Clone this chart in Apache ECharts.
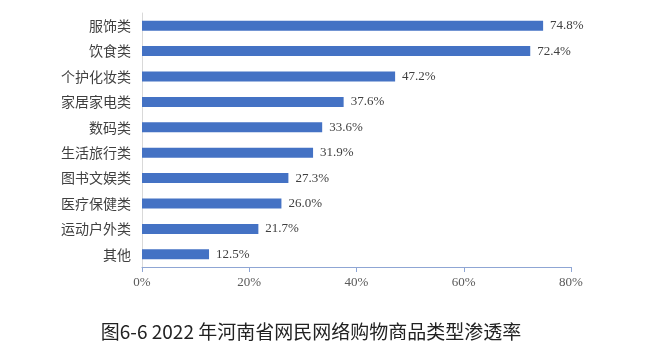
<!DOCTYPE html>
<html><head><meta charset="utf-8">
<script src="https://cdn.jsdelivr.net/npm/echarts@6/dist/echarts.min.js"></script>
<style>html,body{margin:0;padding:0;background:#fff}#c{width:664px;height:360px}</style>
</head><body><div id="c"></div>
<script>
const categories = ['服饰类','饮食类','个护化妆类','家居家电类','数码类','生活旅行类','图书文娱类','医疗保健类','运动户外类','其他'];
const values = [74.8,72.4,47.2,37.6,33.6,31.9,27.3,26.0,21.7,12.5];
const xTicks = [0,20,40,60,80];
const titleText = '图6-6 2022 年河南省网民网络购物商品类型渗透率';

const chart = echarts.init(document.getElementById('c'));
chart.setOption({
  animation:false,
  backgroundColor:'#fff',
  title:{text:titleText,left:306,textAlign:'center',top:317,
    textStyle:{fontFamily:'"Noto Sans CJK SC"',fontSize:19,fontWeight:'normal',color:'#222'}},
  grid:{left:142,right:93,top:13,bottom:93,containLabel:false},
  xAxis:{type:'value',min:xTicks[0],max:xTicks[xTicks.length-1],interval:20,
    axisLine:{show:true,lineStyle:{color:'#8fa6d4',width:1}},
    axisTick:{show:true,length:5,lineStyle:{color:'#8fa6d4'}},
    splitLine:{show:false},
    axisLabel:{formatter:v=>v+'%',color:'#595959',fontSize:13,margin:9,fontFamily:'"Liberation Serif","Noto Sans CJK SC"'}},
  yAxis:{type:'category',data:categories,inverse:true,
    axisLine:{show:true,lineStyle:{color:'#d9d9d9'}},
    axisTick:{show:false},
    axisLabel:{color:'#404040',fontSize:14,margin:11,fontFamily:'"Noto Sans CJK SC"'}},
  series:[{type:'bar',data:values,barWidth:10,
    itemStyle:{color:'#4472c4'},
    label:{show:true,position:'right',distance:7,formatter:p=>p.value.toFixed(1)+'%',
      color:'#404040',fontSize:13,fontFamily:'"Liberation Serif","Noto Sans CJK SC"'}}]
});
</script></body></html>
